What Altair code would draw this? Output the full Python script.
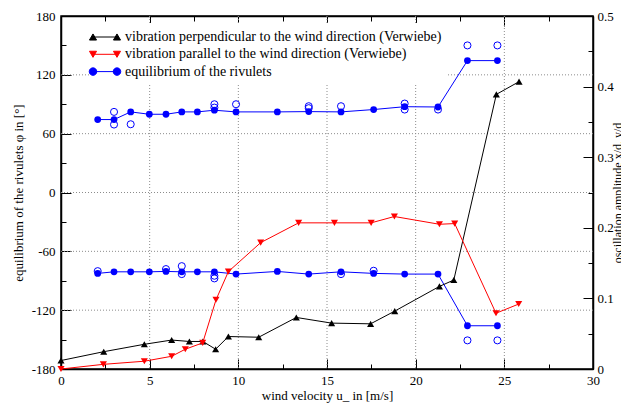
import altair as alt
import pandas as pd

# ---------------- data ----------------
# vibration perpendicular to the wind direction (Verwiebe) -> right axis
u_perp = [0.0, 2.41, 4.70, 6.24, 7.24, 8.00, 8.72, 9.44, 11.15, 13.27, 15.26, 17.46, 18.82, 21.34, 22.15, 24.55, 25.83]
amp_perp = [0.012, 0.0245, 0.035, 0.041, 0.039, 0.039, 0.028, 0.046, 0.045, 0.073, 0.065, 0.064, 0.082, 0.117, 0.126, 0.389, 0.407]

# vibration parallel to the wind direction (Verwiebe) -> right axis
u_par = [0.0, 2.39, 4.70, 6.24, 7.01, 7.99, 8.74, 9.44, 11.26, 13.40, 15.42, 17.49, 18.80, 21.34, 22.20, 24.53, 25.81]
amp_par = [0.0, 0.0066, 0.011, 0.018, 0.028, 0.037, 0.098, 0.138, 0.179, 0.207, 0.207, 0.207, 0.216, 0.205, 0.206, 0.079, 0.092]

# equilibrium of the rivulets (mean values, connected) -> left axis
u_riv = [2.07, 2.99, 3.93, 4.98, 5.92, 6.81, 7.69, 8.65, 9.87, 12.20, 13.97, 15.79, 17.63, 19.38, 21.26, 22.92, 24.61]
phi_upper = [74.4, 74.4, 82.2, 79.8, 79.8, 82.2, 82.2, 83.9, 82.2, 82.2, 82.5, 82.2, 84.6, 87.5, 87.2, 134.5, 134.5]
phi_lower = [-82.5, -80.9, -80.9, -80.9, -80.5, -80.9, -80.9, -80.9, -83.2, -80.5, -83.2, -80.9, -82.5, -83.2, -83.2, -135.9, -135.9]

# single measurements (open circles)
u_single_up = [2.99, 2.99, 3.93, 8.65, 8.65, 9.87, 13.97, 13.97, 15.79, 19.38, 19.38, 21.26, 22.92, 24.61]
phi_single_up = [82.2, 69.3, 69.6, 90.0, 86.6, 90.0, 88.0, 86.0, 88.0, 90.7, 84.6, 84.6, 150.0, 150.0]
u_single_lo = [2.07, 5.92, 6.81, 6.81, 8.65, 8.65, 15.79, 17.63, 22.92, 24.61]
phi_single_lo = [-80.2, -78.1, -75.1, -83.2, -84.9, -87.6, -83.2, -79.8, -150.8, -150.8]

# tick / grid values
x_major = [0, 5, 10, 15, 20, 25, 30]
x_minor = [2.5, 7.5, 12.5, 17.5, 22.5, 27.5]
x_grid = [5, 10, 15, 20, 25]
phi_major = [-180, -120, -60, 0, 60, 120, 180]
phi_minor = [-150, -90, -30, 30, 90, 150]
phi_grid = [-120, -60, 0, 60, 120]
amp_major = [0, 0.1, 0.2, 0.3, 0.4, 0.5]
amp_minor = [0.05, 0.15, 0.25, 0.35, 0.45]

S_PERP = "vibration perpendicular to the wind direction (Verwiebe)"
S_PAR = "vibration parallel to the wind direction (Verwiebe)"
S_RIV = "equilibrium of the rivulets"
series_names = [S_PERP, S_PAR, S_RIV]
series_colors = ["#000000", "#ff0000", "#0000ff"]

# ---------------- styling ----------------
W, H = 532, 353
FONT = "Liberation Serif"
BLUE, RED, BLACK = "#0000ff", "#ff0000", "#000000"
MAJ, MIN = 10, 5

xs = alt.Scale(domain=[0, 30], nice=False, zero=False)
ys_phi = alt.Scale(domain=[-180, 180], nice=False, zero=False)
ys_amp = alt.Scale(domain=[0, 0.5], nice=False, zero=False)


def tri_up(cx):
    return f"M{cx},-0.322L{cx - 0.372},0.322L{cx + 0.372},0.322Z"


def tri_dn(cx):
    return f"M{cx},0.322L{cx - 0.372},-0.322L{cx + 0.372},-0.322Z"


def circ(cx):
    r = 0.395
    return (f"M{cx - r},0A{r},{r},0,1,0,{cx + r},0"
            f"A{r},{r},0,1,0,{cx - r},0Z")


LH = 1.263
line_path = f"M{-LH},0L{LH},0"
legend_paths = [
    line_path + tri_up(-LH) + tri_up(LH),
    line_path + tri_dn(-LH) + tri_dn(LH),
    line_path + circ(-LH) + circ(LH),
]

perp = pd.DataFrame({"u": u_perp, "amp": amp_perp})
par = pd.DataFrame({"u": u_par, "amp": amp_par})
riv = pd.DataFrame({
    "u": u_riv + u_riv,
    "phi": phi_upper + phi_lower,
    "branch": ["upper"] * len(u_riv) + ["lower"] * len(u_riv),
})
single = pd.DataFrame({"u": u_single_up + u_single_lo,
                       "phi": phi_single_up + phi_single_lo})

NOLAB = dict(labels=False, grid=False, title=None)
DOM = dict(domain=True, domainColor="black", domainWidth=1.5)


def tick_axis(orient, values, length):
    # ticks drawn inward: the axis is shifted inside by the tick length
    return alt.Axis(orient=orient, values=values, ticks=True, tickSize=length,
                    tickColor="black", tickWidth=1, offset=-length,
                    domain=False, **NOLAB)


# bottom axis with labels + frame line
x_bottom = alt.Axis(orient="bottom", values=x_major, labelExpr="datum.value + ''",
                    ticks=False, tickSize=0, grid=False, labelPadding=5,
                    labelFlush=False,
                    title="wind velocity u_ in [m/s]", titleY=30.5,
                    titleBaseline="alphabetic", **DOM)
x_top = alt.Axis(orient="top", values=x_major, ticks=False, tickSize=0, **DOM, **NOLAB)

y_left = alt.Axis(orient="left", values=phi_major, labelExpr="datum.value + ''",
                  ticks=False, tickSize=0, grid=False, labelPadding=6,
                  labelFlush=False,
                  title="equilibrium of the rivulets φ in [°]",
                  titleAngle=270, titleX=-38.5, titleY=H / 2,
                  titleAlign="center", titleBaseline="alphabetic", **DOM)
y_right = alt.Axis(orient="right", values=amp_major, labelExpr="datum.value + ''",
                   ticks=False, tickSize=0, grid=False, labelPadding=4,
                   labelFlush=False,
                   title="oscillation amplitude x/d, y/d", titleFontSize=12,
                   titleAngle=270, titleX=28, titleY=H / 2,
                   titleAlign="center", titleBaseline="alphabetic", **DOM)

GRID = dict(color="#8c8c8c", strokeDash=[1, 2], strokeWidth=1)

grid_x = alt.Chart(pd.DataFrame({"g": x_grid})).mark_rule(**GRID).encode(
    x=alt.X("g:Q", scale=xs, axis=None))
grid_y = alt.Chart(pd.DataFrame({"g": phi_grid})).mark_rule(**GRID).encode(
    y=alt.Y("g:Q", scale=ys_phi, axis=None))

riv_line = alt.Chart(riv).mark_line(color=BLUE, strokeWidth=1).encode(
    x=alt.X("u:Q", scale=xs, axis=x_bottom),
    y=alt.Y("phi:Q", scale=ys_phi, axis=y_left), detail="branch:N")
riv_open = alt.Chart(single).mark_point(
    shape="circle", filled=False, size=50, stroke=BLUE, strokeWidth=1,
    opacity=1).encode(
    x=alt.X("u:Q", scale=xs, axis=tick_axis("bottom", x_major, MAJ)),
    y=alt.Y("phi:Q", scale=ys_phi, axis=tick_axis("left", phi_major, MAJ)))
riv_pts = alt.Chart(riv).mark_point(
    shape="circle", filled=True, size=46, color=BLUE, opacity=1).encode(
    x=alt.X("u:Q", scale=xs, axis=tick_axis("bottom", x_minor, MIN)),
    y=alt.Y("phi:Q", scale=ys_phi, axis=tick_axis("left", phi_minor, MIN)))

perp_line = alt.Chart(perp).mark_line(color=BLACK, strokeWidth=1).encode(
    x=alt.X("u:Q", scale=xs, axis=x_top),
    y=alt.Y("amp:Q", scale=ys_amp, axis=y_right))
perp_pts = alt.Chart(perp).mark_point(
    shape="triangle-up", filled=True, size=50, color=BLACK, opacity=1).encode(
    x=alt.X("u:Q", scale=xs, axis=tick_axis("top", x_major, MAJ)),
    y=alt.Y("amp:Q", scale=ys_amp, axis=tick_axis("right", amp_major, MAJ)))

par_line = alt.Chart(par).mark_line(color=RED, strokeWidth=1).encode(
    x=alt.X("u:Q", scale=xs, axis=tick_axis("top", x_minor, MIN)),
    y=alt.Y("amp:Q", scale=ys_amp, axis=tick_axis("right", amp_minor, MIN)))
par_pts = alt.Chart(par).mark_point(
    shape="triangle-down", filled=True, size=50, color=RED, opacity=1).encode(
    x=alt.X("u:Q", scale=xs, axis=None),
    y=alt.Y("amp:Q", scale=ys_amp, axis=None))

leg_df = pd.DataFrame({"s": series_names, "u": [0, 0, 0], "amp": [0, 0, 0]})
legend_layer = alt.Chart(leg_df).transform_filter("false").mark_point(
    filled=True, opacity=1, strokeWidth=1).encode(
    x=alt.X("u:Q", scale=xs, axis=None),
    y=alt.Y("amp:Q", scale=ys_amp, axis=None),
    fill=alt.Fill("s:N", scale=alt.Scale(domain=series_names, range=series_colors),
                  legend=alt.Legend(title=None)),
    stroke=alt.Stroke("s:N", scale=alt.Scale(domain=series_names, range=series_colors),
                      legend=alt.Legend(title=None)),
    shape=alt.Shape("s:N", scale=alt.Scale(domain=series_names, range=legend_paths),
                    legend=alt.Legend(title=None)),
)

chart = alt.layer(
    grid_x, grid_y,
    riv_line, riv_open, riv_pts,
    perp_line, perp_pts,
    par_line, par_pts,
    legend_layer,
).resolve_scale(y="independent").resolve_axis(
    x="independent", y="independent"
).properties(
    width=W, height=H,
    autosize=alt.AutoSizeParams(type="none"),
    padding={"left": 53, "right": 28, "top": 8, "bottom": 34},
    background="white",
).configure_view(
    stroke="black", strokeWidth=1.5
).configure_axis(
    labelFont=FONT, titleFont=FONT, labelFontSize=13, titleFontSize=13,
    titleFontWeight="normal", labelColor="black", titleColor="black",
).configure_legend(
    orient="none", legendX=30, legendY=7, padding=4, fillColor="white",
    symbolSize=361, rowPadding=0.3, labelOffset=10, labelFont=FONT,
    labelFontSize=14, labelColor="black", labelLimit=500,
    symbolStrokeWidth=1,
)

chart.save("out.html", embed_options={"renderer": "svg", "actions": False})
